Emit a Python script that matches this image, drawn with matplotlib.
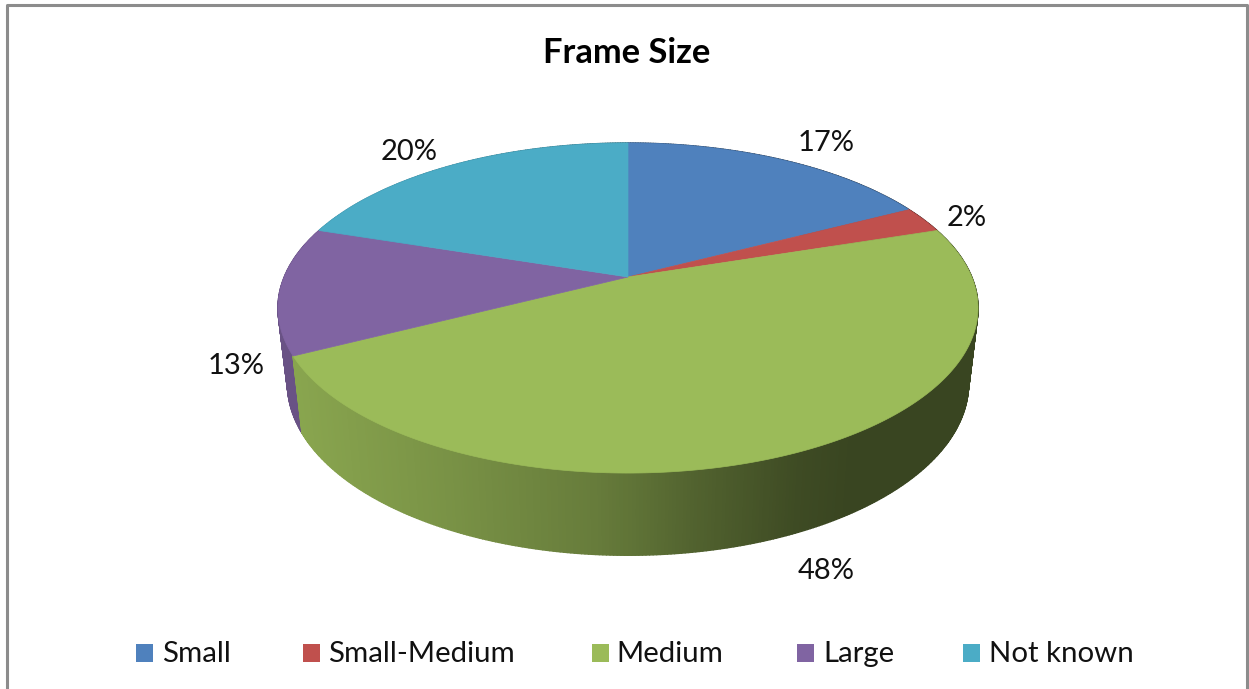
"""
Frame size split drawn as a tilted 3D pie.
"""

import numpy as np
import matplotlib
matplotlib.use('Agg')
import matplotlib.pyplot as plt
from matplotlib.collections import PolyCollection
from matplotlib.patches import Rectangle

# Data
categories = ['Small', 'Small-Medium', 'Medium', 'Large', 'Not known']
values = [17.4, 2.6, 47.5, 12.5, 20.0]
percent_labels = ['17%', '2%', '48%', '13%', '20%']
colors = ['#4F81BD', '#C0504D', '#9BBB59', '#8064A2', '#4BACC6']

# Layout in pixels
label_pos = [(826, 143), (967, 218), (826, 571), (236, 366), (409, 152)]
legend_box_x = [136, 303, 592, 797, 963]
legend_text_x = [162, 328, 616, 823, 989]

CX, CY = 628, 277
RX, RY = 343.8, 159.2
K = 0.188
SCALE_X, SCALE_Y, DROP = 0.973, 1.042, 74


def top_rim(deg):
    # clockwise from 12 o'clock, with perspective on the tilted disc
    a = np.radians(deg)
    d = 1 + K * np.cos(a)
    return CX + RX * np.sin(a) / d, CY - RY * np.cos(a) / d


def bottom_rim(deg):
    x, y = top_rim(deg)
    return CX + SCALE_X * (x - CX), CY + SCALE_Y * (y - CY) + DROP


def side_shade(x, name):
    if name == 'Large':
        return 0.82
    return np.interp(x, [300, 450, 600, 700, 800, 850, 980],
                     [0.88, 0.78, 0.66, 0.52, 0.40, 0.37, 0.37])


plt.rcParams['font.family'] = ['Lato', 'DejaVu Sans']
fig = plt.figure(figsize=(12.49, 6.89), dpi=100)
ax = fig.add_axes([0, 0, 1, 1])
ax.set_xlim(0, 1249)
ax.set_ylim(689, 0)
ax.axis('off')

# Chart frame, open at the bottom
ax.plot([7, 7, 1247.5, 1247.5], [689, 5, 5, 689], color='#8C8C8C', lw=2.2)

edges = np.cumsum([0] + values) / sum(values) * 360

# Side wall, back to front
quads = []
for i, name in enumerate(categories):
    steps = np.arange(edges[i], edges[i + 1], 0.5)
    steps = np.append(steps, edges[i + 1])
    base = np.array(matplotlib.colors.to_rgb(colors[i]))
    for a0, a1 in zip(steps[:-1], steps[1:]):
        xa, ya = top_rim(a0)
        xb, yb = top_rim(a1)
        xc, yc = bottom_rim(a1)
        xd, yd = bottom_rim(a0)
        shade = side_shade((xa + xb) / 2, name)
        quads.append((ya + yb, [(xa, ya), (xb, yb), (xc, yc), (xd, yd)], base * shade))
quads.sort(key=lambda q: q[0])
side = PolyCollection([q[1] for q in quads], facecolors=[q[2] for q in quads],
                      edgecolors=[q[2] for q in quads], linewidths=1.0)
ax.add_collection(side)

# Top face
for i in range(len(values)):
    angles = np.linspace(edges[i], edges[i + 1], 200)
    xs, ys = top_rim(angles)
    ax.fill(np.r_[CX, xs], np.r_[CY, ys], color=colors[i], lw=0.5)

# Percent labels
for text, (x, y) in zip(percent_labels, label_pos):
    ax.text(x, y, text, fontsize=21, color='#111111', ha='center', va='center')

ax.text(627, 53, 'Frame Size', fontsize=24.8, fontweight='bold', color='black',
        ha='center', va='center')

# Legend
for name, c, bx, tx in zip(categories, colors, legend_box_x, legend_text_x):
    ax.add_patch(Rectangle((bx, 644), 17, 18, facecolor=c, edgecolor='none'))
    ax.text(tx, 654, name, fontsize=21.2, color='#111111', ha='left', va='center')

fig.savefig('out.png', dpi=100)
